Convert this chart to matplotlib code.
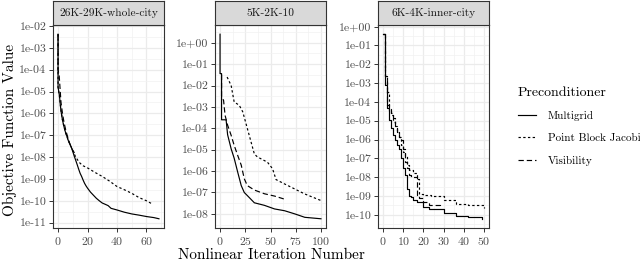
import matplotlib
matplotlib.use('Agg')
import matplotlib.pyplot as plt
from matplotlib.ticker import FuncFormatter, MultipleLocator, FixedLocator
from matplotlib.lines import Line2D

plt.rcParams['font.family'] = ['cmr10', 'DejaVu Serif']
plt.rcParams['axes.formatter.use_mathtext'] = True

panels = ['26K-29K-whole-city', '5K-2K-10', '6K-4K-inner-city']
methods = ['Multigrid', 'Point Block Jacobi', 'Visibility']

# 26K-29K-whole-city
city_mg_x = [0, 0, 1, 1.5, 2, 2.5, 3, 4, 5, 6, 7, 8, 9, 10, 11, 12, 13, 14, 15, 16, 17, 18, 19, 20,
             22, 24, 26, 28, 30, 32, 34, 36, 40, 45, 50, 55, 60, 65, 68.5]
city_mg_y = [4.2e-3, 1.6e-5, 6.3e-6, 2.5e-6, 1.3e-6, 7.9e-7, 5.0e-7, 2.5e-7, 1.4e-7, 8.9e-8, 5.6e-8,
             4.0e-8, 2.8e-8, 1.8e-8, 1.1e-8, 7.1e-9, 4.5e-9, 2.8e-9, 1.8e-9, 1.3e-9, 8.9e-10, 6.3e-10,
             4.8e-10, 3.8e-10, 2.5e-10, 1.8e-10, 1.3e-10, 1.0e-10, 7.9e-11, 6.9e-11, 6.0e-11, 4.5e-11,
             3.8e-11, 3.0e-11, 2.5e-11, 2.2e-11, 1.9e-11, 1.7e-11, 1.5e-11]
city_pbj_x = [0, 0, 1, 1.5, 2, 2.5, 3, 4, 5, 6, 7, 8, 9, 10, 11, 12, 13, 14, 15, 17, 20, 25, 30, 35,
              40, 45, 50, 55, 60, 64]
city_pbj_y = [4.2e-3, 1.6e-5, 5.5e-6, 2.8e-6, 1.4e-6, 8.5e-7, 5.0e-7, 2.5e-7, 1.4e-7, 8.9e-8, 5.6e-8,
              4.0e-8, 2.8e-8, 2.0e-8, 1.4e-8, 1.0e-8, 7.9e-9, 6.3e-9, 5.2e-9, 4.0e-9, 3.2e-9, 2.0e-9,
              1.3e-9, 7.9e-10, 4.5e-10, 3.2e-10, 2.2e-10, 1.4e-10, 1.0e-10, 7.1e-11]
city_vis_x = [0, 0, 0.8, 1.5, 2, 3, 4, 5, 6, 8, 10, 12]
city_vis_y = [4.2e-3, 1.0e-4, 5.0e-5, 1.0e-5, 3.2e-6, 1.0e-6, 4.0e-7, 2.0e-7, 1.1e-7, 4.0e-8, 2.0e-8,
              1.3e-8]

# 5K-2K-10
k10_mg_x = [0, 0, 1.5, 1.5, 6, 7.5, 11, 14, 17.5, 21, 24, 27, 34, 44, 54, 64, 74, 84, 100]
k10_mg_y = [2.5, 3.6e-2, 3.6e-2, 2.5e-4, 2.5e-4, 5.0e-5, 1.1e-5, 4.0e-6, 8.9e-7, 2.1e-7, 1.0e-7,
            7.2e-8, 3.3e-8, 2.5e-8, 1.7e-8, 1.4e-8, 1.0e-8, 6.9e-9, 5.9e-9]
k10_pbj_x = [7, 11, 14, 19, 22.5, 27, 34, 37, 47, 52, 55.5, 64, 73.5, 83.5, 100]
k10_pbj_y = [2.5e-2, 1.0e-2, 1.7e-3, 1.2e-3, 5.9e-4, 1.0e-4, 6.3e-6, 4.6e-6, 2.6e-6, 1.3e-6, 4.0e-7,
             2.5e-7, 1.5e-7, 8.7e-8, 4.2e-8]
k10_vis_x = [1.5, 1.5, 3.5, 5, 7.5, 11, 14, 17.5, 21, 24, 27, 34, 44, 54, 65]
k10_vis_y = [3.2e-2, 3.2e-3, 2.0e-3, 4.0e-4, 1.4e-4, 4.7e-5, 1.6e-5, 5.4e-6, 1.9e-6, 4.4e-7, 2.1e-7,
             1.3e-7, 8.7e-8, 6.8e-8, 4.7e-8]

# 6K-4K-inner-city (one point per iteration, drawn as steps)
inner_mg_x = [0, 1, 2, 3, 4, 5, 6, 7, 8, 9, 10, 11, 12, 13, 14, 15, 17, 20, 23, 30, 36, 42, 49]
inner_mg_y = [0.39, 7.9e-4, 5.0e-5, 1.1e-5, 4.0e-6, 1.8e-6, 9.1e-7, 5.0e-7, 3.3e-7, 1.0e-7, 3.2e-8,
              1.3e-8, 2.5e-9, 1.0e-9, 8.7e-10, 5.8e-10, 5.0e-10, 2.5e-10, 2.1e-10, 1.3e-10, 9.1e-11,
              7.6e-11, 6.2e-11]
inner_pbj_x = [0, 1, 2, 3, 4, 5, 6, 7, 8, 9, 10, 11, 12, 13, 15, 17, 18, 20, 24, 30, 36, 42, 50]
inner_pbj_y = [0.39, 2.5e-3, 3.2e-4, 3.2e-5, 2.0e-5, 1.4e-5, 5.0e-6, 2.5e-6, 1.4e-6, 5.0e-7, 2.2e-7,
               1.3e-7, 4.3e-8, 2.5e-8, 1.6e-8, 8.3e-9, 1.3e-9, 1.1e-9, 1.0e-9, 5.8e-10, 3.9e-10,
               3.2e-10, 2.3e-10]
inner_vis_x = [0, 1, 2, 3, 4, 5, 6, 7, 8, 9, 10, 11, 12, 13, 14, 17, 18, 20, 23, 28]
inner_vis_y = [0.39, 2.5e-3, 6.8e-5, 4.0e-5, 2.5e-5, 8.7e-6, 5.0e-6, 2.5e-6, 1.4e-6, 9.1e-7, 3.3e-7,
               6.3e-8, 3.2e-8, 1.3e-8, 1.0e-8, 1.1e-9, 7.9e-10, 5.0e-10, 3.2e-10, 2.5e-10]

series = [
    [(city_mg_x, city_mg_y), (city_pbj_x, city_pbj_y), (city_vis_x, city_vis_y)],
    [(k10_mg_x, k10_mg_y), (k10_pbj_x, k10_pbj_y), (k10_vis_x, k10_vis_y)],
    [(inner_mg_x, inner_mg_y), (inner_pbj_x, inner_pbj_y), (inner_vis_x, inner_vis_y)],
]
drawstyles = ['default', 'default', 'steps-post']
x_major = [20, 25, 10]
y_major = [(-11, -2), (-8, 0), (-10, 0)]

styles = ['-', (0, (2.0, 2.0)), (0, (4.5, 2.5))]
W, H = 640, 261
lefts = [53, 215, 378]
pw = 111
top, bottom, strip_top = 25, 228, 1
dark = '#333333'

fig = plt.figure(figsize=(W / 100, H / 100), dpi=100)

for i, name in enumerate(panels):
    ax = fig.add_axes([lefts[i] / W, (H - bottom) / H, pw / W, (bottom - top) / H])
    for (xs, ys), ls in zip(series[i], styles):
        ax.plot(xs, ys, color='black', lw=0.85, linestyle=ls, drawstyle=drawstyles[i])
    ax.set_yscale('log')
    ax.margins(x=0.05, y=0.05)
    lo, hi = y_major[i]
    ax.yaxis.set_major_locator(FixedLocator([10.0 ** k for k in range(lo, hi + 1)]))
    ax.yaxis.set_minor_locator(FixedLocator([10.0 ** (k + 0.5) for k in range(lo - 1, hi + 1)]))
    ax.yaxis.set_major_formatter(FuncFormatter(lambda v, p: f'{v:.0e}'))
    ax.xaxis.set_major_locator(MultipleLocator(x_major[i]))
    ax.xaxis.set_minor_locator(MultipleLocator(x_major[i] / 2))
    ax.grid(True, which='major', color='#EBEBEB', lw=0.9)
    ax.grid(True, which='minor', color='#F2F2F2', lw=0.5)
    ax.set_axisbelow(True)
    ax.tick_params(which='major', length=2.8, width=0.7, color=dark, labelsize=8.5,
                   labelcolor='#4D4D4D', pad=2)
    ax.tick_params(which='minor', length=0)
    for s in ax.spines.values():
        s.set_color(dark)
        s.set_linewidth(0.8)
    # facet strip
    sax = fig.add_axes([lefts[i] / W, (H - top) / H, pw / W, (top - strip_top) / H])
    sax.set_facecolor('#D9D9D9')
    sax.set_xticks([])
    sax.set_yticks([])
    for s in sax.spines.values():
        s.set_color(dark)
        s.set_linewidth(0.8)
    sax.text(0.5, 0.5, name, ha='center', va='center', fontsize=8.2, color='#1A1A1A',
             transform=sax.transAxes)

fig.text(271 / W, 1 - 255 / H, 'Nonlinear Iteration Number', ha='center', va='center', fontsize=11)
fig.text(10 / W, 1 - 130 / H, 'Objective Function Value', ha='center', va='center',
         rotation=90, fontsize=11)

handles = [Line2D([], [], color='black', lw=0.85, linestyle=ls) for ls in styles]
leg = fig.legend(handles, methods, title='Preconditioner', loc='upper left',
                 bbox_to_anchor=(508 / W, 1 - 77 / H), frameon=False, fontsize=8,
                 title_fontsize=10, handlelength=1.6, handletextpad=1.1, labelspacing=1.1,
                 alignment='left')

fig.savefig('out.png', dpi=100)
